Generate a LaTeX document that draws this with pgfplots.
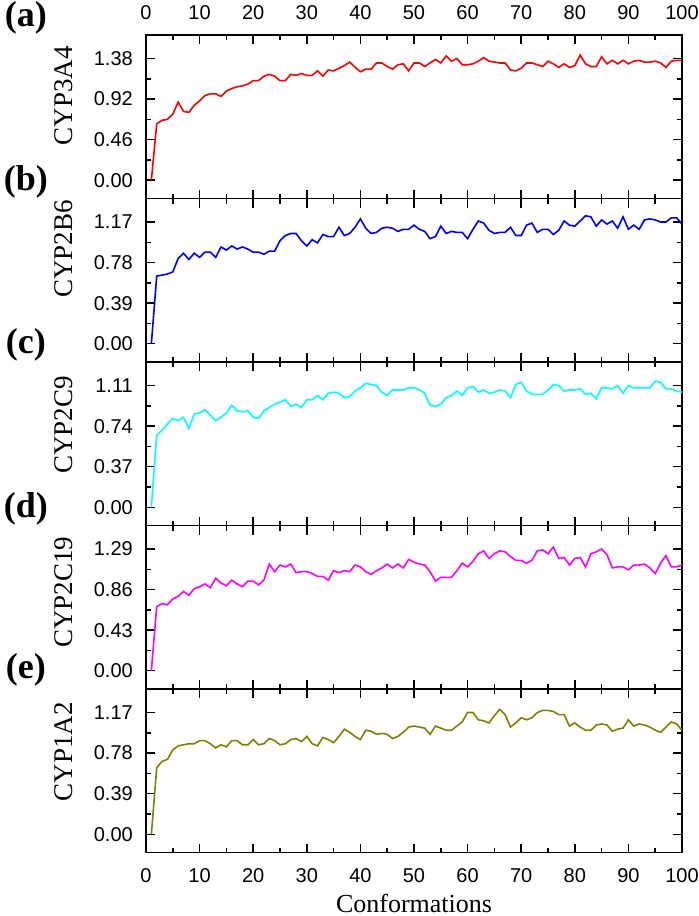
\documentclass[border=0pt]{standalone}
\usepackage{pgfplots}
\usepackage{pgfplotstable}
\pgfplotsset{compat=1.18}
\usepackage{fontspec}
\setmainfont{Liberation Serif}
\newfontfamily\arialf{Liberation Sans}

\pgfplotstableread{
x a b c d e
1 0 0 0 0 0
2 0.64 0.65 0.66 0.68 0.64
3 0.68 0.66 0.70 0.71 0.70
4 0.69 0.67 0.76 0.70 0.72
5 0.75 0.69 0.81 0.76 0.81
6 0.886 0.82 0.79 0.79 0.85
7 0.78 0.87 0.82 0.84 0.86
8 0.77 0.81 0.72 0.80 0.87
9 0.85 0.87 0.85 0.87 0.87
10 0.90 0.83 0.86 0.89 0.90
11 0.96 0.88 0.89 0.92 0.90
12 0.98 0.88 0.84 0.88 0.87
13 0.98 0.83 0.79 0.98 0.83
14 0.95 0.93 0.82 0.93 0.86
15 1.01 0.90 0.86 0.90 0.84
16 1.04 0.94 0.93 0.96 0.90
17 1.06 0.91 0.88 0.92 0.90
18 1.07 0.93 0.87 0.89 0.86
19 1.09 0.91 0.88 0.95 0.86
20 1.13 0.88 0.82 0.95 0.91
21 1.13 0.88 0.81 0.91 0.86
22 1.18 0.86 0.88 0.96 0.87
23 1.20 0.89 0.91 1.13 0.92
24 1.18 0.89 0.94 1.05 0.90
25 1.13 0.99 0.96 1.12 0.86
26 1.13 1.04 0.98 1.10 0.87
27 1.20 1.06 0.92 1.13 0.91
28 1.19 1.06 0.94 1.04 0.92
29 1.21 0.99 0.91 1.05 0.89
30 1.19 0.94 0.98 1.05 0.94
31 1.19 1.00 0.98 1.03 0.87
32 1.24 0.97 1.02 1.00 0.85
33 1.18 1.05 0.98 1.00 0.93
34 1.25 1.03 1.04 0.96 0.91
35 1.24 1.03 1.05 1.06 0.88
36 1.27 1.12 1.04 1.04 0.94
37 1.30 1.04 1.00 1.06 1.01
38 1.34 1.06 1.01 1.05 0.98
39 1.28 1.12 1.06 1.12 0.94
40 1.23 1.20 1.09 1.10 0.91
41 1.26 1.11 1.13 1.05 1.00
42 1.26 1.06 1.12 1.02 0.99
43 1.33 1.07 1.11 1.06 0.96
44 1.33 1.11 1.05 1.09 0.97
45 1.29 1.12 1.02 1.13 0.96
46 1.26 1.11 1.07 1.09 0.92
47 1.31 1.08 1.07 1.13 0.94
48 1.32 1.10 1.07 1.09 0.98
49 1.24 1.10 1.09 1.18 1.03
50 1.33 1.14 1.09 1.15 1.04
51 1.33 1.10 1.07 1.13 1.03
52 1.29 1.08 1.04 1.12 1.02
53 1.33 1.01 0.93 1.05 0.96
54 1.37 1.03 0.92 0.95 1.04
55 1.33 1.13 0.94 0.99 1.02
56 1.41 1.06 1.00 0.99 1.00
57 1.35 1.08 1.02 0.99 1.00
58 1.38 1.07 1.06 1.06 1.04
59 1.31 1.07 1.02 1.14 1.08
60 1.31 1.01 1.09 1.10 1.17
61 1.32 1.10 1.10 1.16 1.17
62 1.35 1.18 1.05 1.24 1.10
63 1.39 1.16 1.07 1.27 1.09
64 1.35 1.09 1.04 1.19 1.07
65 1.34 1.06 1.05 1.24 1.14
66 1.33 1.07 1.07 1.27 1.20
67 1.33 1.07 1.06 1.26 1.15
68 1.25 1.12 1.00 1.21 1.03
69 1.24 1.04 1.12 1.17 1.07
70 1.27 1.04 1.14 1.17 1.12
71 1.33 1.14 1.06 1.14 1.10
72 1.33 1.16 1.03 1.17 1.12
73 1.31 1.07 1.03 1.27 1.17
74 1.29 1.10 1.03 1.28 1.19
75 1.35 1.10 1.07 1.24 1.19
76 1.32 1.05 1.12 1.31 1.18
77 1.28 1.09 1.11 1.19 1.15
78 1.32 1.18 1.06 1.20 1.15
79 1.28 1.14 1.07 1.12 1.04
80 1.30 1.13 1.07 1.19 1.07
81 1.42 1.18 1.08 1.20 1.03
82 1.32 1.23 1.03 1.10 1.00
83 1.29 1.22 1.04 1.24 1.00
84 1.29 1.13 0.99 1.26 1.05
85 1.40 1.19 1.09 1.29 1.06
86 1.32 1.15 1.09 1.23 1.05
87 1.36 1.18 1.08 1.09 0.99
88 1.32 1.11 1.11 1.10 1.01
89 1.36 1.22 1.04 1.10 1.02
90 1.32 1.10 1.11 1.07 1.10
91 1.35 1.14 1.09 1.12 1.04
92 1.36 1.10 1.09 1.12 1.06
93 1.34 1.19 1.09 1.13 1.05
94 1.34 1.20 1.09 1.09 1.03
95 1.35 1.19 1.15 1.03 1.00
96 1.33 1.17 1.14 1.14 0.98
97 1.28 1.17 1.08 1.22 1.03
98 1.35 1.21 1.08 1.10 1.08
99 1.36 1.21 1.06 1.10 1.06
100 1.36 1.15 1.05 1.12 1.00
}\datatab

\definecolor{redc}{RGB}{255,0,0}
\definecolor{bluec}{RGB}{0,0,255}
\definecolor{cyanc}{RGB}{0,255,255}
\definecolor{magc}{RGB}{255,0,255}
\definecolor{olivec}{RGB}{128,128,0}

\pgfplotsset{
  panel/.style={
    scale only axis, width=536pt, height=163.5pt,
    anchor=north west, clip=false,
    xmin=0, xmax=100, xtick={0,10,...,100}, minor x tick num=1,
    minor y tick num=1,
    tick align=inside, xtick pos=both, ytick pos=both,
    major tick length=9pt, minor tick length=5pt,
    axis line style={line width=1.5pt},
    tick style={line width=1.5pt, black},
    tick label style={font=\arialf\fontsize{20}{23}\selectfont},
    /pgf/number format/assume math mode=true,
    yticklabel style={/pgf/number format/fixed, /pgf/number format/fixed zerofill, /pgf/number format/precision=2, inner sep=0pt, xshift=-13pt},
    xticklabels={},
  },
  toppanel/.style={xticklabel pos=upper, xticklabels={0,10,20,30,40,50,60,70,80,90,100}, xticklabel style={inner sep=0pt, yshift=15pt}},
  botpanel/.style={xticklabel pos=lower, xticklabels={0,10,20,30,40,50,60,70,80,90,100}, xticklabel style={inner sep=0pt, yshift=-16pt}},
}
\tikzset{
  ylab/.style={rotate=90, font=\fontsize{27}{30}\selectfont, anchor=center},
  plab/.style={font=\bfseries\fontsize{36}{40}\selectfont, anchor=center},
}

\begin{document}
\begin{tikzpicture}
\useasboundingbox (0pt,0pt) rectangle (699pt,-916pt);

% (a)
\begin{axis}[panel, toppanel, at={(146pt,-35pt)},
  ymin=-0.207, ymax=1.647, ytick={0,0.46,0.92,1.38}]
  \addplot[redc, line width=1.6pt] table[x=x, y=a] {\datatab};
  \node[ylab] at (axis description cs:-0.153,0.627) {CYP3A4};
  \node[plab] at (axis description cs:-0.224,1.104) {(a)};
\end{axis}

% (b)
\begin{axis}[panel, at={(146pt,-198.5pt)},
  ymin=-0.1755, ymax=1.396, ytick={0,0.39,0.78,1.17}]
  \addplot[bluec, line width=1.6pt] table[x=x, y=b] {\datatab};
  \node[ylab] at (axis description cs:-0.153,0.69) {CYP2B6};
  \node[plab] at (axis description cs:-0.224,1.104) {(b)};
\end{axis}

% (c)
\begin{axis}[panel, at={(146pt,-362pt)},
  ymin=-0.1665, ymax=1.325, ytick={0,0.37,0.74,1.11}]
  \addplot[cyanc, line width=1.6pt] table[x=x, y=c] {\datatab};
  \node[ylab] at (axis description cs:-0.153,0.615) {CYP2C9};
  \node[plab] at (axis description cs:-0.224,1.104) {(c)};
\end{axis}

% (d)
\begin{axis}[panel, at={(146pt,-525.5pt)},
  ymin=-0.1935, ymax=1.539, ytick={0,0.43,0.86,1.29}]
  \addplot[magc, line width=1.6pt] table[x=x, y=d] {\datatab};
  \node[ylab] at (axis description cs:-0.153,0.593) {CYP2C19};
  \node[plab] at (axis description cs:-0.224,1.104) {(d)};
\end{axis}

% (e)
\begin{axis}[panel, botpanel, at={(146pt,-689pt)},
  ymin=-0.1755, ymax=1.396, ytick={0,0.39,0.78,1.17}]
  \addplot[olivec, line width=1.6pt] table[x=x, y=e] {\datatab};
  \node[ylab] at (axis description cs:-0.153,0.615) {CYP1A2};
  \node[plab] at (axis description cs:-0.224,1.12) {(e)};
  \node[font=\fontsize{26}{30}\selectfont, anchor=center] at (axis description cs:0.5,-0.309) {Conformations};
\end{axis}
\end{tikzpicture}
\end{document}
